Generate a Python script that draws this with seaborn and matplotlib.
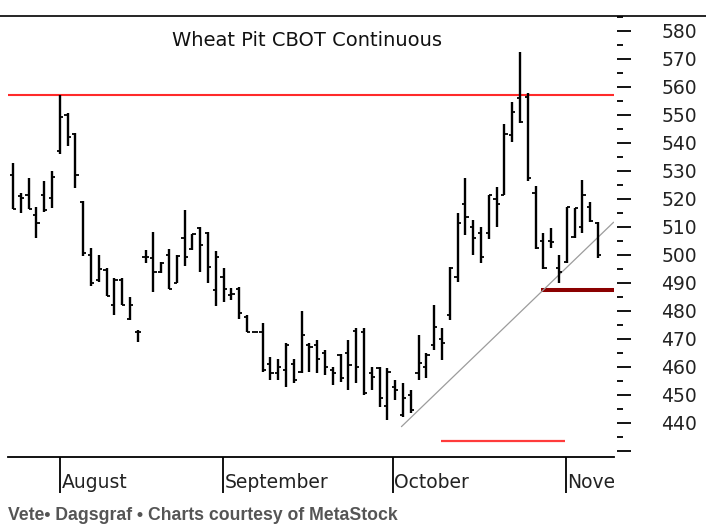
import numpy as np
import pandas as pd
import matplotlib
matplotlib.use("Agg")
import matplotlib.pyplot as plt
from matplotlib.lines import Line2D
import seaborn as sns

# ---------------- data ----------------
day = list(range(76))
high = [532.9, 522.1, 527.5, 517.1, 526.4, 530.0, 557.1, 550.7, 543.6, 519.3,
        502.5, 500.0, 495.4, 491.8, 491.8, 485.0, 473.2, 501.8, 508.2, 497.5,
        502.1, 500.0, 516.0, 507.5, 510.0, 508.2, 501.4, 495.4, 488.2, 488.6,
        478.6, 472.5, 475.7, 463.6, 463.0, 468.6, 463.0, 480.0, 468.6, 469.6,
        466.0, 460.0, 464.6, 469.6, 474.0, 474.0, 460.0, 460.0, 459.6, 455.4,
        454.3, 451.8, 471.4, 465.0, 482.1, 474.0, 495.7, 515.0, 527.5, 512.5,
        510.0, 521.4, 524.3, 546.8, 554.6, 572.5, 557.9, 524.6, 507.9, 509.6,
        500.0, 517.0, 516.8, 526.8, 518.9, 511.8]
low = [516.4, 515.0, 516.4, 506.0, 515.4, 516.8, 536.0, 538.9, 523.9, 499.6,
       488.9, 490.4, 485.4, 478.6, 482.1, 476.8, 469.0, 497.1, 486.8, 493.6,
       487.9, 490.0, 496.0, 501.8, 493.9, 490.0, 481.8, 483.2, 483.9, 477.1,
       472.5, 472.5, 458.2, 455.4, 455.4, 452.9, 454.3, 458.0, 458.2, 458.0,
       457.0, 453.6, 454.6, 451.8, 454.3, 450.0, 451.8, 445.7, 441.0, 448.2,
       442.1, 443.6, 455.4, 456.0, 466.0, 462.5, 476.8, 490.4, 507.0, 500.0,
       497.0, 505.7, 510.0, 521.4, 540.4, 547.1, 526.4, 502.1, 495.0, 502.5,
       490.0, 497.0, 506.0, 507.9, 511.8, 498.9]
open_ = [528.6, 521.0, 521.4, 514.3, 521.4, 520.4, 537.0, 550.0, 543.2, 519.0,
         500.0, 491.0, 494.6, 482.1, 491.0, 477.0, 472.5, 499.3, 498.9, 493.9,
         500.0, 490.0, 506.0, 502.0, 509.6, 508.0, 487.5, 492.0, 485.7, 488.0,
         478.0, 472.5, 472.5, 461.0, 457.9, 459.0, 461.0, 458.2, 468.0, 468.0,
         465.0, 459.0, 464.3, 465.0, 473.0, 472.5, 458.0, 459.6, 446.0, 453.0,
         442.9, 450.0, 457.9, 460.0, 468.0, 470.0, 478.6, 492.0, 518.2, 510.0,
         508.0, 507.9, 520.0, 521.4, 542.9, 556.0, 556.4, 522.0, 505.0, 505.0,
         495.4, 497.5, 506.4, 510.0, 517.1, 511.4]
close = [516.4, 520.5, 516.4, 511.4, 516.0, 527.9, 549.3, 542.1, 528.6, 500.7,
         490.0, 495.0, 485.5, 491.0, 482.1, 482.0, 472.5, 499.3, 493.9, 497.1,
         488.0, 499.6, 499.3, 507.5, 503.6, 495.7, 499.3, 487.9, 486.0, 479.3,
         472.5, 472.5, 459.0, 457.9, 460.0, 467.9, 455.4, 471.4, 467.0, 462.9,
         460.0, 457.9, 456.1, 460.7, 460.0, 450.7, 456.4, 449.0, 458.2, 451.8,
         449.0, 444.6, 461.4, 464.3, 474.3, 468.6, 495.4, 511.4, 513.6, 506.0,
         499.3, 521.4, 518.2, 543.2, 551.1, 547.5, 527.5, 502.5, 495.4, 504.6,
         494.0, 517.0, 516.8, 521.4, 512.1, 500.0]

resistance_level = 557.1
support_x = [54.9, 70.8]
support_y = [433.4, 433.4]
floor_x = [67.7, 77.0]
floor_y = [487.5, 487.5]
trend_x = [49.8, 77.0]
trend_y = [438.7, 511.7]

month_names = ["August", "September", "October", "November"]
month_pos = [6.0, 26.9, 48.7, 70.9]
week_pos = [1, 6, 11, 16, 21, 26, 31, 36, 41, 46, 51, 56, 61, 66, 71, 76]
ytick_major = list(range(430, 590, 10))
ytick_minor = list(range(435, 590, 10))
ytick_labels = ["" if v == 430 else str(v) for v in ytick_major]

title = "Wheat Pit CBOT Continuous"
caption = "Vete\u2022 Dagsgraf \u2022 Charts courtesy of MetaStock"

df = pd.DataFrame({"day": day, "high": high, "low": low, "open": open_, "close": close})

# ---------------- figure ----------------
sns.set_style("white")
plt.rcParams["font.family"] = ["DejaVu Sans"]

W, H = 706, 529
fig = plt.figure(figsize=(W / 100, H / 100), dpi=100)
fig.patch.set_facecolor("white")

px_left, px_right, px_top, px_bot = 8, 614, 16, 457
ax = fig.add_axes([px_left / W, 1 - px_bot / H, (px_right - px_left) / W, (px_bot - px_top) / H])
ax.set_facecolor("white")

x0, dx = 13.0, 7.8
xlim = ((px_left - x0) / dx, (px_right - x0) / dx)
ax.set_xlim(*xlim)
ylim = (580 - (px_bot - 31) / 2.8, 580 - (px_top - 31) / 2.8)
ax.set_ylim(*ylim)

# OHLC bars
tick_w = 0.42
ax.vlines(df["day"], df["low"], df["high"], color="black", lw=1.7, zorder=3)
ax.hlines(df["open"], df["day"] - tick_w, df["day"], color="black", lw=1.3, zorder=3)
ax.hlines(df["close"], df["day"], df["day"] + tick_w, color="black", lw=1.3, zorder=3)

# annotation lines
ax.axhline(resistance_level, color="#ff2a2a", lw=1.5, zorder=2)
ax.plot(support_x, support_y, color="#ff3b3b", lw=1.6, zorder=2, solid_capstyle="butt")
ax.plot(floor_x, floor_y, color="#8b0000", lw=2.9, zorder=2, solid_capstyle="butt")
sns.lineplot(x=trend_x, y=trend_y, ax=ax, color="#9c9c9c", lw=0.9, zorder=2)

# axes styling
for s in ["left", "top"]:
    ax.spines[s].set_visible(False)
ax.spines["right"].set_color("none")
ax.spines["right"].set_position(("outward", 2.2))
ax.spines["bottom"].set_color("black")
ax.spines["bottom"].set_linewidth(1.3)

ax.yaxis.tick_right()
ax.set_yticks(ytick_major)
ax.set_yticklabels(ytick_labels)
ax.set_yticks(ytick_minor, minor=True)
ax.tick_params(axis="y", which="major", direction="out", length=10.0, width=1.3,
               pad=22, labelsize=13.5, colors="black", labelcolor="#222222")
ax.tick_params(axis="y", which="minor", direction="out", length=4.3, width=1.3, colors="black")
ax.set_xticks(week_pos)
ax.set_xticklabels([])
ax.tick_params(axis="x", which="major", direction="out", length=7.2, width=1.1, colors="black")
ax.tick_params(axis="x", which="minor", length=0)
ax.set_xlabel("")
ax.set_ylabel("")
ax.grid(False)

ax.text(((307 - x0) / dx), 580 - (40 - 31) / 2.8, title, ha="center", va="center",
        fontsize=14, color="#111111")

# month separators and labels (clipped at the chart's right edge)
ax2 = fig.add_axes([px_left / W, 1 - 500 / H, (px_right - px_left) / W, (500 - px_bot) / H])
ax2.set_xlim(*xlim)
ax2.set_ylim(0, 43)
ax2.axis("off")
ax2.patch.set_alpha(0)
ax2.vlines(month_pos, 43 - 36, 43, color="black", lw=1.3)
for name, pos in zip(month_names, month_pos):
    ax2.text(pos + 0.2, 43 - 25, name, ha="left", va="center", fontsize=13.5,
             color="#222222", clip_on=True)

# top frame line
fig.add_artist(Line2D([0, 1], [1 - 16 / H, 1 - 16 / H], color="black", lw=1.2))

# caption
fig.text(8 / W, 1 - 515 / H, caption, ha="left", va="center", fontsize=12.7,
         fontweight="bold", color="#555555", family=["Liberation Sans", "DejaVu Sans"])

fig.savefig("out.png", dpi=100, facecolor="white")
